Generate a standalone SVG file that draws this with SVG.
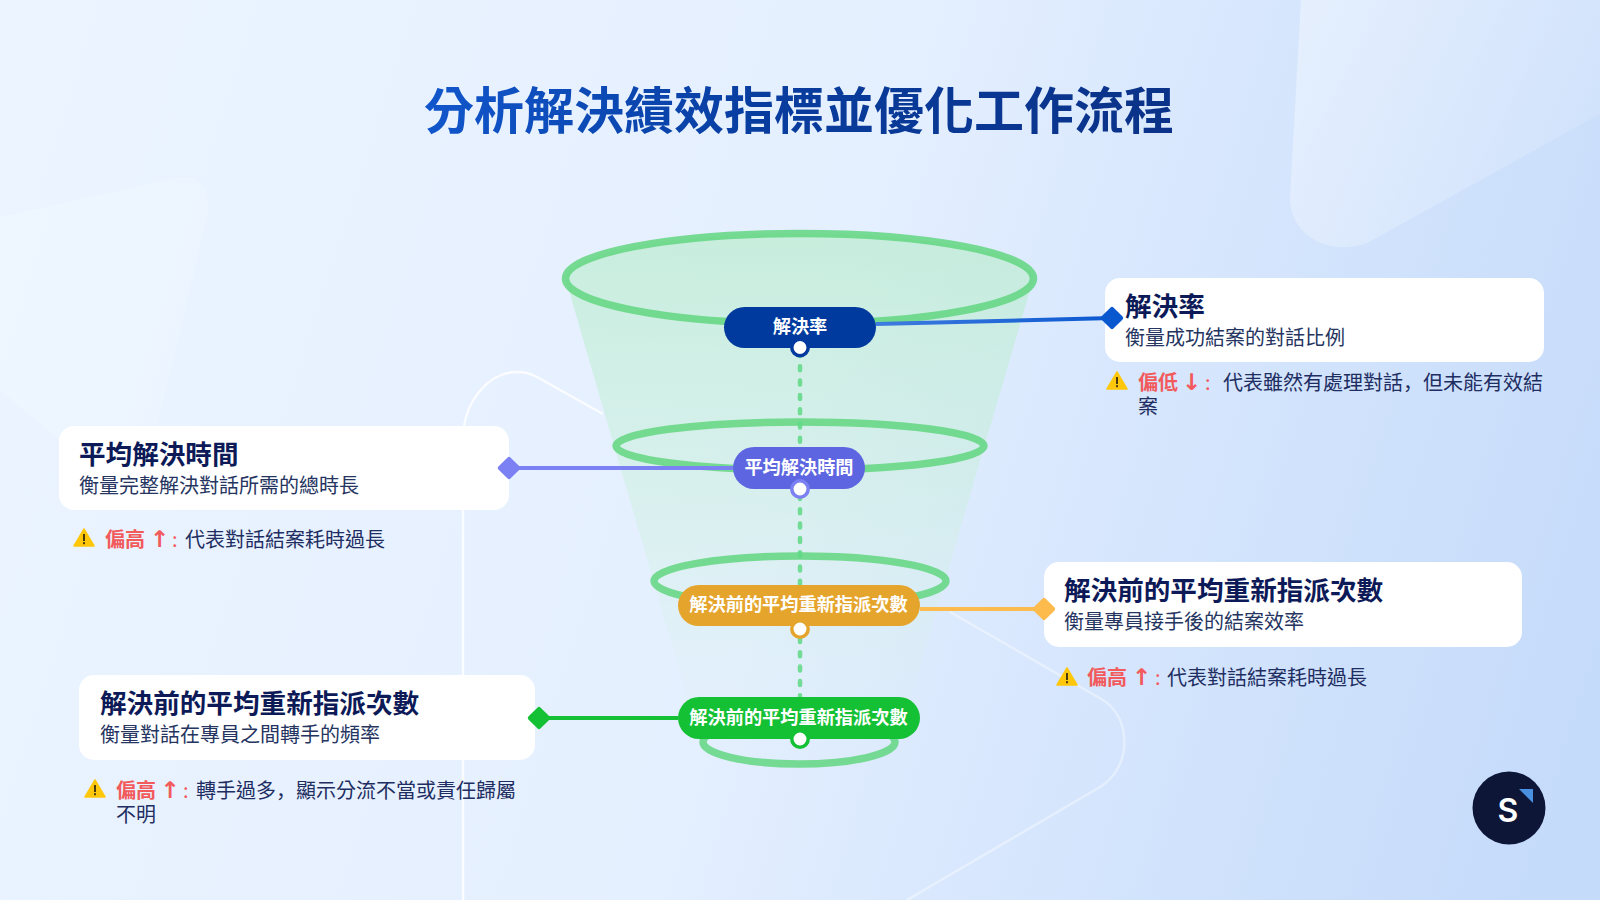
<svg xmlns="http://www.w3.org/2000/svg" width="1600" height="900" viewBox="0 0 1600 900">
<defs>
<linearGradient id="bg" gradientUnits="userSpaceOnUse" x1="0" y1="200" x2="1600" y2="700">
<stop offset="0" stop-color="#ebf4ff"/><stop offset="0.5" stop-color="#e4efff"/><stop offset="0.7" stop-color="#d6e6fd"/><stop offset="1" stop-color="#c5dbfa"/>
</linearGradient>
<linearGradient id="title" gradientUnits="userSpaceOnUse" x1="425" y1="90" x2="1173" y2="130">
<stop offset="0" stop-color="#1156cc"/><stop offset="0.45" stop-color="#083d9f"/><stop offset="1" stop-color="#0b3288"/>
</linearGradient>
<linearGradient id="funnel" gradientUnits="userSpaceOnUse" x1="0" y1="235" x2="0" y2="740">
<stop offset="0" stop-color="#b9eccd" stop-opacity="0.68"/><stop offset="0.5" stop-color="#c4f0d4" stop-opacity="0.4"/><stop offset="0.85" stop-color="#d4f4df" stop-opacity="0.16"/><stop offset="1" stop-color="#d4f4df" stop-opacity="0.04"/>
</linearGradient>
<linearGradient id="blueline" gradientUnits="userSpaceOnUse" x1="876" y1="324" x2="1112" y2="318">
<stop offset="0" stop-color="#3f7ce0"/><stop offset="1" stop-color="#0a58d0"/>
</linearGradient>
<linearGradient id="shapeTR" x1="0" y1="0" x2="1" y2="0.4">
<stop offset="0" stop-color="#ffffff" stop-opacity="0.38"/><stop offset="1" stop-color="#ffffff" stop-opacity="0.12"/>
</linearGradient>
<g id="warn">
<path d="M10 1 L20 18 H0 Z" fill="#ffc70a" stroke="#ffc70a" stroke-width="1.5" stroke-linejoin="round"/>
<rect x="9" y="6" width="2" height="7" fill="#4a3a10"/><rect x="9" y="14.2" width="2" height="2" fill="#4a3a10"/>
</g>
<rect id="dia" x="-8.5" y="-8.5" width="17" height="17" rx="2" transform="rotate(45)"/>
</defs>
<style>
text{font-family:"Noto Sans CJK TC","Noto Sans CJK SC",sans-serif}
.card{fill:#fff}
.h{font-size:26.6px;font-weight:700;fill:#0d1a58}
.s{font-size:20px;fill:#25355f}
.w{font-size:20px;fill:#1e2e62}
.r{font-weight:700;fill:#f25a5c}
.a{font-family:"DejaVu Sans",sans-serif;font-size:23px;font-weight:700;fill:#f25a5c}
.c{fill:#f25a5c}
.k{font-family:"Noto Sans CJK SC",sans-serif}
.p{font-size:18.2px;font-weight:700;fill:#fff;text-anchor:middle}
.ring{fill:none;stroke:#62d680;stroke-opacity:.85;stroke-width:7.5}
.dot{fill:#fff;stroke-width:3.5}
</style>
<rect width="1600" height="900" fill="url(#bg)"/>
<g id="background">
<path d="M1301 0 L1290 195 C1288 232 1325 258 1367 243 L1600 114 V0 Z" fill="url(#shapeTR)"/>
<path d="M0 217 L180 177 C198 174 210 190 208 213 L157 427 L60 440 L0 390 Z" fill="#fff" fill-opacity=".17"/>
<path d="M463 900 V440 C463 400 490 372 517 372 C525 372 530 373 537 377 L603 414" fill="none" stroke="#fff" stroke-opacity=".8" stroke-width="2.5"/>
<path d="M950 612 L1103 700 C1132 718 1132 768 1100 787 L907 900" fill="none" stroke="#fff" stroke-opacity=".38" stroke-width="2.5"/>
</g>
<text id="title-text" x="799" y="129" font-weight="700" text-anchor="middle" fill="url(#title)" style="font-size:50px">分析解決績效指標並優化工作流程</text>
<g id="funnel-body">
<path d="M565.5 278.5 A234 45 0 0 1 1033.5 278.5 L898 742 A99 22 0 0 1 700 742 Z" fill="url(#funnel)"/>
<ellipse class="ring" cx="799.5" cy="278.5" rx="234" ry="45"/>
<ellipse class="ring" cx="800" cy="446" rx="184" ry="24"/>
<ellipse class="ring" cx="800" cy="581" rx="146" ry="25"/>
<ellipse class="ring" cx="799" cy="742" rx="96" ry="22"/>
</g>
<g id="card-resolution-rate">
<rect class="card" x="1105" y="278" width="439" height="84" rx="15"/>
<text class="h" x="1125" y="316">解決率</text>
<text class="s" x="1125" y="345">衡量成功結案的對話比例</text>
<use href="#warn" x="1107" y="371"/>
<text class="w" y="390"><tspan class="r" x="1138">偏低</tspan><tspan class="a" x="1182">↓</tspan><tspan class="c" x="1205">:</tspan><tspan x="1223">代表雖然有處理對話</tspan><tspan class="k">&#65292;</tspan><tspan>但未能有效結</tspan></text>
<text class="w" x="1138" y="414">案</text>
</g>
<g id="card-avg-time">
<rect class="card" x="59" y="426" width="450" height="84" rx="15"/>
<text class="h" x="79" y="464">平均解決時間</text>
<text class="s" x="79" y="493">衡量完整解決對話所需的總時長</text>
<use href="#warn" x="74" y="528"/>
<text class="w" y="547"><tspan class="r" x="105">偏高</tspan><tspan class="a" x="150">↑</tspan><tspan class="c" x="172">:</tspan><tspan x="185">代表對話結案耗時過長</tspan></text>
</g>
<g id="card-reassign-right">
<rect class="card" x="1044" y="562" width="478" height="85" rx="15"/>
<text class="h" x="1064" y="600">解決前的平均重新指派次數</text>
<text class="s" x="1064" y="629">衡量專員接手後的結案效率</text>
<use href="#warn" x="1057" y="667"/>
<text class="w" y="685"><tspan class="r" x="1087">偏高</tspan><tspan class="a" x="1132">↑</tspan><tspan class="c" x="1155">:</tspan><tspan x="1167">代表對話結案耗時過長</tspan></text>
</g>
<g id="card-reassign-left">
<rect class="card" x="79" y="675" width="456" height="85" rx="15"/>
<text class="h" x="100" y="713">解決前的平均重新指派次數</text>
<text class="s" x="100" y="742">衡量對話在專員之間轉手的頻率</text>
<use href="#warn" x="85" y="779"/>
<text class="w" y="798"><tspan class="r" x="116">偏高</tspan><tspan class="a" x="160.500">↑</tspan><tspan class="c" x="183">:</tspan><tspan x="196">轉手過多</tspan><tspan class="k">&#65292;</tspan><tspan>顯示分流不當或責任歸屬</tspan></text>
<text class="w" x="116" y="822">不明</text>
</g>
<g id="connectors">
<path d="M800 352 V697" fill="none" stroke="#5fd884" stroke-opacity=".85" stroke-width="4.500" stroke-dasharray="4 10.300" stroke-linecap="round"/>
<path d="M876 324 L1112 318" fill="none" stroke="url(#blueline)" stroke-width="4"/>
<use href="#dia" x="1112" y="318" fill="#0a58d0"/>
<path d="M733 468 H509" fill="none" stroke="#7b80f2" stroke-width="4"/>
<use href="#dia" x="509" y="468" fill="#7b80f2"/>
<path d="M920 609 H1044" fill="none" stroke="#fdbb4d" stroke-width="4"/>
<use href="#dia" x="1044" y="609" fill="#fdbb4d"/>
<path d="M678 718 H539" fill="none" stroke="#14c135" stroke-width="4"/>
<use href="#dia" x="539" y="718" fill="#14c135"/>
</g>
<g id="pill-resolution-rate">
<rect x="724" y="307" width="152" height="41" rx="20.5" fill="#003a9e"/>
<circle class="dot" cx="800" cy="347.5" r="8.200" stroke="#003a9e"/>
<text class="p" x="800" y="333">解決率</text>
</g>
<g id="pill-avg-time">
<rect x="733" y="447" width="132" height="42" rx="21" fill="#5d66e0"/>
<circle class="dot" cx="800" cy="489" r="8.200" stroke="#7b80f2"/>
<text class="p" x="799" y="474">平均解決時間</text>
</g>
<g id="pill-reassign-right">
<rect x="678" y="585" width="242" height="41" rx="20.5" fill="#e5a52d"/>
<circle class="dot" cx="800" cy="629" r="8.200" stroke="#e5a52d"/>
<text class="p" x="798.500" y="611">解決前的平均重新指派次數</text>
</g>
<g id="pill-reassign-left">
<rect x="678" y="697" width="242" height="42" rx="21" fill="#14c135"/>
<circle class="dot" cx="800" cy="739" r="8.200" stroke="#14c135"/>
<text class="p" x="798.500" y="723.500">解決前的平均重新指派次數</text>
</g>
<g id="logo">
<circle cx="1509" cy="808" r="36.500" fill="#0d1636"/>
<path d="M1519 789 H1533 V803 Z" fill="#4a90e0"/>
<text x="1508" y="822" font-weight="600" text-anchor="middle" fill="#fff" style="font-family:Inter,'Noto Sans',sans-serif;font-size:32px">S</text>
</g>
</svg>
